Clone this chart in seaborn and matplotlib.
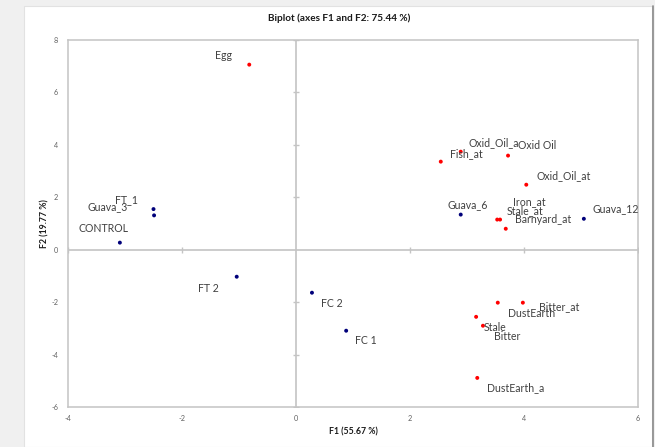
import matplotlib
matplotlib.use('Agg')
import matplotlib.pyplot as plt
import seaborn as sns
import pandas as pd
from matplotlib.patches import Rectangle
from matplotlib.lines import Line2D

# ---- data ----
names = ['FT_1', 'Guava_3', 'CONTROL', 'FT 2', 'FC 2', 'FC 1', 'Guava_6', 'Guava_12',
         'Egg', 'Fish_at', 'Oxid_Oil_a', 'Oxid Oil', 'Oxid_Oil_at', 'Iron_at', 'Stale_at',
         'Barnyard_at', 'DustEarth', 'Bitter_at', 'Stale', 'Bitter', 'DustEarth_a']
f1 = [-2.50, -2.49, -3.09, -1.04, 0.28, 0.88, 2.89, 5.05,
      -0.82, 2.54, 2.89, 3.72, 4.04, 3.58, 3.53,
      3.68, 3.54, 3.98, 3.16, 3.28, 3.18]
f2 = [1.55, 1.31, 0.27, -1.03, -1.64, -3.09, 1.34, 1.18,
      7.06, 3.36, 3.74, 3.59, 2.48, 1.15, 1.15,
      0.80, -2.02, -2.02, -2.56, -2.90, -4.89]
groups = ['obs'] * 8 + ['var'] * 13
x_ticks = [-4, -2, 0, 2, 4, 6]
y_ticks = [-6, -4, -2, 0, 2, 4, 6, 8]
title = 'Biplot (axes F1 and F2: 75.44 %)'
x_label = 'F1 (55.67 %)'
y_label = 'F2 (19.77 %)'

# label offsets in pixels (right, down) from each point, text left/center aligned
label_offsets = {
    'FT_1': (-38, -9), 'Guava_3': (-67, -9), 'CONTROL': (-41, -14), 'FT 2': (-39, 12),
    'FC 2': (9, 11), 'FC 1': (9, 10), 'Guava_6': (-13, -10), 'Guava_12': (9, -10),
    'Egg': (-34, -9), 'Fish_at': (9, -8), 'Oxid_Oil_a': (8, -9), 'Oxid Oil': (10, -10),
    'Oxid_Oil_at': (10, -9), 'Iron_at': (13, -18), 'Stale_at': (9, -9),
    'Barnyard_at': (9, -9), 'DustEarth': (10, 11), 'Bitter_at': (16, 4),
    'Stale': (8, 11), 'Bitter': (11, 11), 'DustEarth_a': (10, 10),
}

df = pd.DataFrame({'name': names, 'F1': f1, 'F2': f2, 'group': groups})

sns.set_theme(style='white')
plt.rcParams['font.family'] = ['Lato', 'DejaVu Sans']

W, H = 655, 447
fig = plt.figure(figsize=(W / 100, H / 100), dpi=100, facecolor='#f0f0f0')
bg = Rectangle((24 / W, 0), (652 - 24) / W, (H - 6) / H,
               transform=fig.transFigure, facecolor='white',
               edgecolor='#e2e2e2', lw=0.8, zorder=-10)
fig.patches.append(bg)
fig.add_artist(Line2D([653 / W, 653 / W], [0, (H - 6) / H], color='#8a8a8a', lw=1.2))

ax = fig.add_axes([68 / W, (H - 407) / H, (638 - 68) / W, (407 - 40) / H])
ax.set_zorder(5)
ax.set_facecolor('white')

grid_col = '#c4c4c4'
ax.axhline(0, color=grid_col, lw=1.2, zorder=1)
ax.axvline(0, color=grid_col, lw=1.2, zorder=1)
# small tick marks along the zero lines
ax.plot([t for t in x_ticks if t != 0], [0] * (len(x_ticks) - 1), ls='none',
        marker='|', ms=5, mew=1, color=grid_col, zorder=1)
ax.plot([0] * (len(y_ticks) - 1), [t for t in y_ticks if t != 0], ls='none',
        marker='_', ms=5, mew=1, color=grid_col, zorder=1)

sns.scatterplot(data=df, x='F1', y='F2', hue='group',
                palette={'obs': '#00007a', 'var': '#ff0000'},
                s=8, linewidth=0, legend=False, ax=ax, zorder=3)

for n, x, y in zip(names, f1, f2):
    dx, dy = label_offsets[n]
    ax.annotate(n, (x, y), xytext=(dx, -dy), textcoords='offset pixels',
                ha='left', va='center', fontsize=7.6, color='#404040', zorder=4)

ax.set_xlim(-4, 6)
ax.set_ylim(-6, 8)
ax.set_xticks(x_ticks)
ax.set_yticks(y_ticks)
ax.set_xticklabels([str(t) for t in x_ticks])
ax.set_yticklabels([str(t) for t in y_ticks])
ax.tick_params(axis='both', length=0, labelsize=5.2, labelcolor='#606060')
ax.tick_params(axis='x', pad=6)
ax.tick_params(axis='y', pad=7)
ax.set_xlabel('')
ax.set_ylabel('')
for sp in ax.spines.values():
    sp.set_color(grid_col)
    sp.set_linewidth(1.1)

fig.text(339 / W, 1 - 18 / H, title, ha='center', va='center',
         fontsize=7.2, fontweight='bold', color='#1a1a1a')
fig.text(353 / W, 1 - 432 / H, x_label, ha='center', va='center',
         fontsize=6.3, fontweight='bold', color='#1a1a1a')
fig.text(45 / W, 1 - 224 / H, y_label, ha='center', va='center', rotation=90,
         fontsize=6.3, fontweight='bold', color='#1a1a1a')

fig.savefig('out.png', dpi=100, facecolor=fig.get_facecolor())
